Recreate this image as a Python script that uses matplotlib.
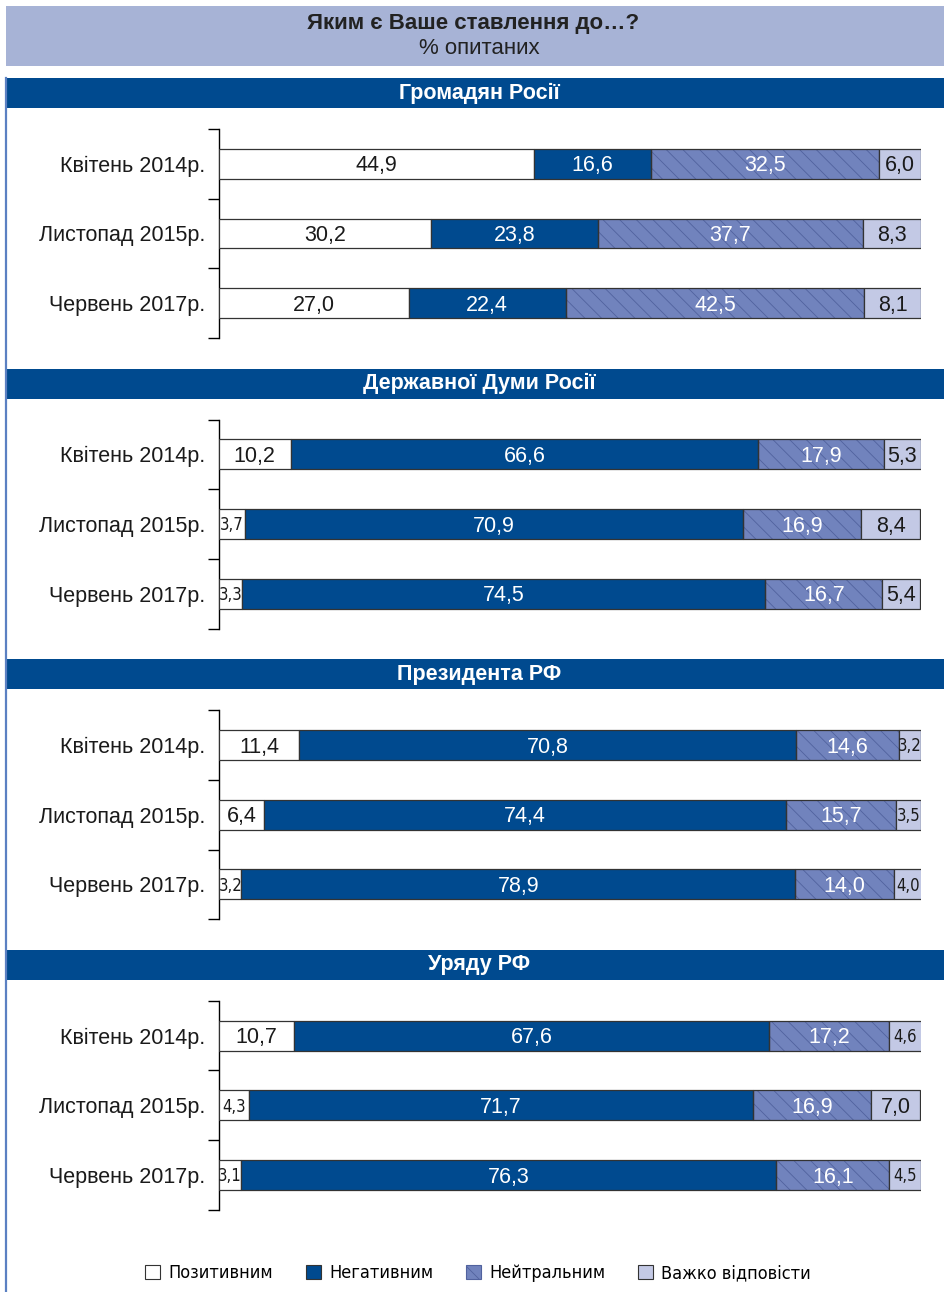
import matplotlib
matplotlib.use("Agg")
import matplotlib.pyplot as plt
from matplotlib.patches import Rectangle, Patch
from matplotlib.lines import Line2D
import numpy as np

plt.rcParams['font.family'] = ['Liberation Sans', 'DejaVu Sans']
plt.rcParams['hatch.linewidth'] = 0.6

# ---- data ----
title = "Яким є Ваше ставлення до…?"
subtitle = "% опитаних"
sections = ["Громадян Росії", "Державної Думи Росії", "Президента РФ", "Уряду РФ"]
periods = ["Квітень 2014р.", "Листопад 2015р.", "Червень 2017р."]
series = ["Позитивним", "Негативним", "Нейтральним", "Важко відповісти"]

positive = [[44.9, 30.2, 27.0], [10.2, 3.7, 3.3], [11.4, 6.4, 3.2], [10.7, 4.3, 3.1]]
negative = [[16.6, 23.8, 22.4], [66.6, 70.9, 74.5], [70.8, 74.4, 78.9], [67.6, 71.7, 76.3]]
neutral = [[32.5, 37.7, 42.5], [17.9, 16.9, 16.7], [14.6, 15.7, 14.0], [17.2, 16.9, 16.1]]
hard = [[6.0, 8.3, 8.1], [5.3, 8.4, 5.4], [3.2, 3.5, 4.0], [4.6, 7.0, 4.5]]

# ---- style ----
navy = "#004a8f"
c_neutral = "#7183bd"
c_hard = "#c3c9e5"
hatch_col = "#51629e"
title_bg = "#a7b3d6"
side_line = "#5b80c2"
colors = ["white", navy, c_neutral, c_hard]
txt_colors = ["#1a1a1a", "white", "white", "#1a1a1a"]

W, H = 945, 1292
fig = plt.figure(figsize=(W / 100, H / 100), dpi=100)

def fx(px):
    return px / W

def fy(py):
    return 1 - py / H

# title box
fig.patches.append(Rectangle((fx(6), fy(66)), fx(939), 60 / H, transform=fig.transFigure,
                             facecolor=title_bg, edgecolor="none", zorder=0))
fig.text(fx(473), fy(24), title, ha="center", va="center", fontsize=16, fontweight="bold",
         color="#222222", fontstretch="condensed")
fig.text(fx(479), fy(48), subtitle, ha="center", va="center", fontsize=16, color="#222222")

# left blue rule
fig.add_artist(Line2D([fx(6), fx(6)], [fy(78), 0], transform=fig.transFigure,
                      color=side_line, lw=1.6))

step = 290.6
for s, name in enumerate(sections):
    top = 78 + s * step
    fig.patches.append(Rectangle((fx(6), fy(top + 30)), fx(939), 30 / H,
                                 transform=fig.transFigure, facecolor=navy,
                                 edgecolor="none", zorder=0))
    fig.text(fx(479), fy(top + 15), name, ha="center", va="center", fontsize=15.5,
             fontweight="bold", color="white")

    ax_top = top + 51
    ax = fig.add_axes([fx(219), fy(ax_top + 209), fx(702), 209 / H])
    data = np.array([positive[s], negative[s], neutral[s], hard[s]])
    y = np.arange(len(periods))
    left = np.zeros(len(periods))
    for k in range(4):
        vals = data[k]
        if k == 2:
            ax.barh(y, vals, left=left, height=0.43, color=colors[k], hatch="\\\\",
                    edgecolor=hatch_col, linewidth=0, zorder=2)
            ax.barh(y, vals, left=left, height=0.43, fill=False, edgecolor="#333333",
                    linewidth=0.9, zorder=3)
        else:
            ax.barh(y, vals, left=left, height=0.43, color=colors[k],
                    edgecolor="#333333", linewidth=0.9, zorder=3)
        for i, v in enumerate(vals):
            lbl = f"{v:.1f}".replace(".", ",")
            if v < 5:
                ax.text(left[i] + v / 2, y[i] + 0.02, lbl, ha="center", va="center",
                        fontsize=12, color=txt_colors[k], family="DejaVu Sans",
                        fontstretch="condensed", zorder=4)
            else:
                ax.text(left[i] + v / 2, y[i] + 0.03, lbl, ha="center", va="center",
                        fontsize=15.5, color=txt_colors[k], zorder=4)
        left += vals

    ax.set_xlim(0, 100)
    ax.set_ylim(2.5, -0.5)
    ax.set_yticks(y)
    ax.set_yticklabels(periods, fontsize=15.5, color="#1a1a1a")
    ax.set_yticks([-0.5, 0.5, 1.5, 2.5], minor=True)
    ax.tick_params(axis="y", which="major", length=0, pad=10)
    ax.tick_params(axis="y", which="minor", length=8, width=1, direction="out")
    ax.set_xticks([])
    for sp in ["top", "right", "bottom"]:
        ax.spines[sp].set_visible(False)
    ax.spines["left"].set_linewidth(1)
    ax.patch.set_alpha(0)

handles = [Patch(facecolor=colors[0], edgecolor="#333333", lw=0.8),
           Patch(facecolor=colors[1], edgecolor="#333333", lw=0.8),
           Patch(facecolor=colors[2], edgecolor=hatch_col, hatch="\\\\", lw=0.8),
           Patch(facecolor=colors[3], edgecolor="#333333", lw=0.8)]
fig.legend(handles, series, loc="center", bbox_to_anchor=(fx(478), fy(1273)), ncol=4,
           frameon=False, handlelength=0.85, handleheight=0.85,
           handletextpad=0.45, columnspacing=1.8,
           prop={'family': 'DejaVu Sans', 'stretch': 'condensed', 'size': 13})

fig.savefig("out.png", dpi=100)
